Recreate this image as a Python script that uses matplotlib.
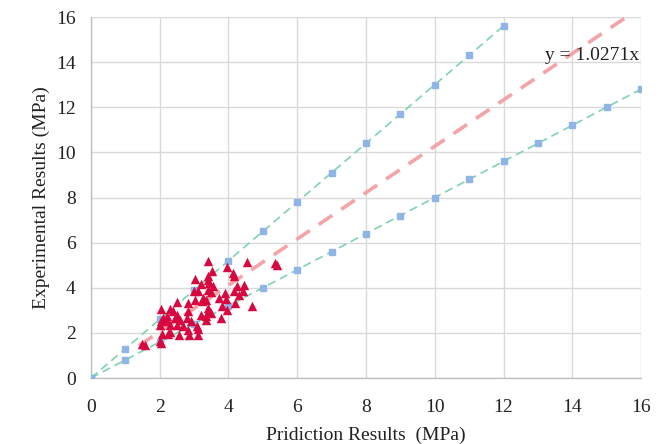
import numpy as np
import matplotlib
matplotlib.use("Agg")
import matplotlib.pyplot as plt

plt.rcParams['font.family'] = ['Liberation Serif', 'DejaVu Serif']

# Predicted vs. measured strengths (MPa)
pred = [3.41, 4.53, 5.34, 5.41, 3.97, 3.53, 4.13, 4.17, 3.40, 3.02,
        3.39, 3.43, 3.19, 3.56, 3.00, 3.12, 3.41, 3.50, 4.44, 4.26,
        4.41, 4.16, 4.32, 3.90, 3.34, 3.27, 3.72, 3.92, 2.49, 2.83,
        3.02, 3.22, 4.19, 4.68, 2.03, 2.31, 2.39, 2.83, 3.39, 3.40,
        3.80, 3.95, 2.49, 2.21, 2.10, 2.43, 3.19, 3.34, 3.48, 3.78,
        2.04, 2.20, 2.59, 2.78, 2.90, 3.34, 2.00, 2.31, 2.49, 2.68,
        3.07, 3.11, 2.82, 2.23, 2.06, 2.29, 2.56, 2.85, 3.12, 2.00,
        2.05, 1.48, 1.58]
meas = [5.19, 5.14, 5.08, 4.99, 4.93, 4.74, 4.64, 4.52, 4.52, 4.37,
        4.34, 4.19, 4.15, 4.10, 3.85, 3.85, 3.90, 3.81, 4.13, 4.07,
        3.85, 3.85, 3.70, 3.78, 3.48, 3.56, 3.53, 3.51, 3.36, 3.33,
        3.48, 3.41, 3.33, 3.19, 3.04, 3.04, 2.96, 2.99, 3.11, 2.93,
        3.19, 3.01, 2.81, 2.77, 2.67, 2.67, 2.81, 2.74, 2.89, 2.64,
        2.52, 2.52, 2.59, 2.64, 2.52, 2.55, 2.37, 2.37, 2.33, 2.30,
        2.30, 2.18, 2.15, 1.93, 1.93, 2.03, 1.90, 1.90, 1.90, 1.63,
        1.56, 1.51, 1.48]

# Fitted trend and +/- bounds
slope_fit = 1.0271
slope_upper = 1.3
slope_lower = 0.8
upper_x = list(range(0, 13))
lower_x = list(range(0, 17))
fit_x = [1.4, 16 / slope_fit]

fig = plt.figure(figsize=(6.66, 4.44), dpi=100)
ax = fig.add_axes([0.1366, 0.1486, 0.8259, 0.8131])

green = '#7fd3b0'
blue = '#8fb4e6'

ux = np.array(upper_x, dtype=float)
lx = np.array(lower_x, dtype=float)
ax.plot(ux, slope_upper * ux, color=green, lw=1.2, ls=(0, (5, 3)), zorder=2)
ax.plot(ux, slope_upper * ux, ls='none', marker='s', ms=4, color=blue, zorder=3)
ax.plot(lx, slope_lower * lx, color=green, lw=1.2, ls=(0, (5, 3)), zorder=2)
ax.plot(lx, slope_lower * lx, ls='none', marker='s', ms=4, color=blue, zorder=3)

fx = np.array(fit_x)
ax.plot(fx, slope_fit * fx, color='#f4a3a6', lw=2.6, ls=(0, (4.5, 3)), zorder=4)

ax.scatter(pred, meas, marker='^', s=46, color='#d9073f', linewidths=0, zorder=5)

ax.text(13.2, 14.3, 'y = 1.0271x', fontsize=14, va='center', ha='left',
        color='#222222', zorder=6)

ax.set_xlim(0, 16)
ax.set_ylim(0, 16)
ax.set_xticks(range(0, 17, 2))
ax.set_yticks(range(0, 17, 2))
ax.grid(True, color='#d9d9d9', lw=1.0, zorder=0)
ax.set_axisbelow(True)
for s in ['top', 'right']:
    ax.spines[s].set_visible(False)
for s in ['left', 'bottom']:
    ax.spines[s].set_color('#bfbfbf')
    ax.spines[s].set_linewidth(1.0)
ax.tick_params(length=0, labelsize=14, colors='#222222')
ax.tick_params(axis='x', pad=15)
ax.tick_params(axis='y', pad=11)

ax.set_xlabel('Pridiction Results  (MPa)', fontsize=14, color='#222222', labelpad=8)
ax.set_ylabel('Experimental Results (MPa)', fontsize=14, color='#222222', labelpad=4)

fig.savefig('out.png', dpi=100)
